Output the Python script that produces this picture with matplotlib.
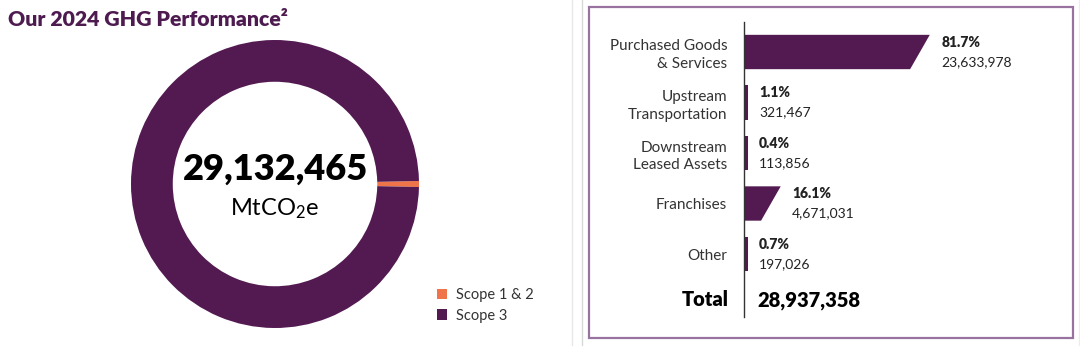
import matplotlib
matplotlib.use("Agg")
import matplotlib.pyplot as plt
from matplotlib.patches import Rectangle
from matplotlib.lines import Line2D

# ---------------- data ----------------
title = "Our 2024 GHG Performance\u00b2"
scope_labels = ["Scope 1 & 2", "Scope 3"]
scope_values = [195107, 28937358]
donut_total_label = "29,132,465"
donut_unit = r"MtCO$_2$e"

categories = ["Purchased Goods\n& Services", "Upstream\nTransportation",
              "Downstream\nLeased Assets", "Franchises", "Other"]
cat_values = [23633978, 321467, 113856, 4671031, 197026]
cat_pcts = ["81.7%", "1.1%", "0.4%", "16.1%", "0.7%"]
total_label = "Total"
total_value = "28,937,358"

# ---------------- style ----------------
PURPLE = "#531a52"
ORANGE = "#f0744a"
TEXT = "#222222"
plt.rcParams["font.family"] = ["Lato", "DejaVu Sans"]
plt.rcParams["mathtext.fontset"] = "custom"
plt.rcParams["mathtext.rm"] = "Lato"
plt.rcParams["mathtext.default"] = "regular"

W, H = 1080, 364
fig = plt.figure(figsize=(W / 100, H / 100), dpi=100)


def fx(px):
    return px / W


def fy(py):
    return 1 - py / H


# title
fig.text(fx(8), fy(19), title, fontsize=15.3, fontweight="heavy", color="#4e1b50",
         ha="left", va="center")

# ---------------- donut ----------------
cx, cy, r = 275, 184, 144
axd = fig.add_axes([fx(cx - r), fy(cy + r), fx(2 * r), (2 * r) / H])
ang = 360 * scope_values[0] / sum(scope_values) / 2
wedges, _ = axd.pie(scope_values, colors=[ORANGE, PURPLE], startangle=-ang,
                    radius=1.0, wedgeprops=dict(width=0.29, linewidth=0))
axd.set_xlim(-1, 1)
axd.set_ylim(-1, 1)
axd.set_aspect("equal")
axd.axis("off")
axd.text(0, 0.10, donut_total_label, fontsize=26, fontweight="heavy", color="black",
         ha="center", va="center")
axd.text(0, -0.17, donut_unit, fontsize=17, color="black", ha="center", va="center")

fig.legend(wedges, scope_labels, loc="upper left",
           bbox_to_anchor=(fx(424), fy(275)), frameon=False, fontsize=10.5,
           handlelength=0.7, handleheight=0.7, handletextpad=0.6,
           labelspacing=0.45, labelcolor="#333333")

# separators
for xp, c in [(572, "#e6e6e6"), (582, "#d6d6d6"), (1079, "#ececec")]:
    fig.add_artist(Line2D([fx(xp), fx(xp)], [fy(345), 1], color=c, lw=0.9))

# box
fig.add_artist(Rectangle((fx(589), fy(338)), fx(1073 - 589), (338 - 7) / H,
                         fill=False, edgecolor="#99739f", lw=1.6))

# ---------------- bars ----------------
ax0, ax1 = 744, 1060
ay0, ay1 = 22, 317
axb = fig.add_axes([fx(ax0), fy(ay1), fx(ax1 - ax0), (ay1 - ay0) / H])
step = 50.5
axb.set_ylim((ay1 - 52) / step, (ay0 - 52) / step)
axb.set_xlim(0, 40.2e6)

slant = 2.5e6
minw = 0.45e6
bh = 0.68
for i, v in enumerate(cat_values):
    top = max(v, minw)
    bot = top - slant if v > 3 * slant / 2 else top
    y_t, y_b = i - bh / 2, i + bh / 2
    axb.fill([0, top, bot, 0], [y_t, y_t, y_b, y_b], color=PURPLE, lw=0)
    lx = top + 1.45e6
    axb.text(lx, i - 0.19, cat_pcts[i], fontsize=10, fontweight="heavy",
             color=TEXT, ha="left", va="center")
    axb.text(lx, i + 0.2, f"{v:,}", fontsize=10, color=TEXT, ha="left", va="center")

ty = (300 - 52) / step
axb.text(1.65e6, ty, total_value, fontsize=14.5, fontweight="heavy", color="black",
         ha="left", va="center")

axb.set_yticks(range(len(categories)))
axb.set_yticklabels(categories, fontsize=11, color="#333333", linespacing=1.32)
axb.tick_params(axis="y", length=0, pad=12)
axb.set_xticks([])
for s in ["top", "right", "bottom"]:
    axb.spines[s].set_visible(False)
axb.spines["left"].set_color("#333333")
axb.spines["left"].set_linewidth(1.0)
axb.patch.set_alpha(0)
axb.text(-0.05, ty, total_label, transform=axb.get_yaxis_transform(),
         fontsize=14.5, fontweight="heavy", color="black", ha="right", va="center")

fig.savefig("out.png", dpi=100)
